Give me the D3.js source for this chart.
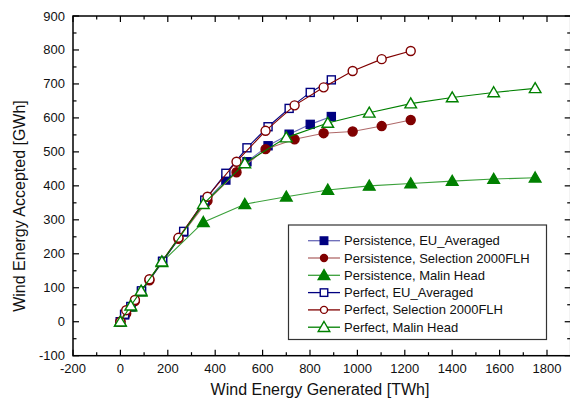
<!DOCTYPE html>
<html><head><meta charset="utf-8">
<script src="https://cdn.jsdelivr.net/npm/d3@7"></script>
<style>html,body{margin:0;padding:0;background:#fff;overflow:hidden}svg{display:block;font-family:"Liberation Sans",Arial,sans-serif}</style>
</head><body><svg id="c" width="570" height="399"></svg>
<script>
// Data
const xEU   = [0, 17.8, 44.5, 89, 178, 267, 356, 445, 534, 623, 712, 801, 890];
const persEU = [0, 20, 44, 89, 177, 264, 352, 417, 471, 518, 552, 581, 604];
const perfEU = [0, 22, 45, 91, 178, 266, 358, 437, 512, 574, 628, 675, 712];
const xSel  = [0, 24.5, 61.25, 122.5, 245, 367.5, 490, 612.5, 735, 857.5, 980, 1102.5, 1225];
const persSel = [0, 24, 61, 122, 244, 356, 440, 508, 537, 555, 560, 576, 594];
const perfSel = [0, 34, 64, 125, 247, 368, 471, 562, 637, 690, 738, 773, 797];
const xMal  = [0, 43.75, 87.5, 175, 350, 525, 700, 875, 1050, 1225, 1400, 1575, 1750];
const persMal = [0, 44, 88, 175, 293, 346, 368, 388, 400, 407, 414, 420, 424];
const perfMal = [0, 47, 91, 177, 346, 466, 542, 585, 615, 642, 660, 675, 687];
const seriesNames = ["Persistence, EU_Averaged","Persistence, Selection 2000FLH","Persistence, Malin Head","Perfect, EU_Averaged","Perfect, Selection 2000FLH","Perfect, Malin Head"];
const xTicks = [-200,0,200,400,600,800,1000,1200,1400,1600,1800];
const yTicks = [-100,0,100,200,300,400,500,600,700,800,900];

const series = [
  {name:seriesNames[0], xs:xEU, ys:persEU, color:"#000080", line:"#6a6ab8", shape:"square", fill:true},
  {name:seriesNames[1], xs:xSel, ys:persSel, color:"#800000", line:"#b06a6a", shape:"circle", fill:true},
  {name:seriesNames[2], xs:xMal, ys:persMal, color:"#008000", line:"#3aa03a", shape:"triangle", fill:true},
  {name:seriesNames[3], xs:xEU, ys:perfEU, color:"#000080", line:"#000080", shape:"square", fill:false},
  {name:seriesNames[4], xs:xSel, ys:perfSel, color:"#800000", line:"#800000", shape:"circle", fill:false},
  {name:seriesNames[5], xs:xMal, ys:perfMal, color:"#008000", line:"#008000", shape:"triangle", fill:false},
];

const svg = d3.select("#c");
const L=73, R=570.7, T=16, B=355.7;
const x = d3.scaleLinear().domain([-200,1900]).range([L,R]);
const y = d3.scaleLinear().domain([-100,900]).range([B,T]);

// Series
const lineGen = d3.line().x(d=>x(d[0])).y(d=>y(d[1]));
function marker(g, shape, fill, color, cx, cy, s){
  const sw = 1.4;
  if(shape==="square"){
    g.append("rect").attr("x",cx-s/2).attr("y",cy-s/2).attr("width",s).attr("height",s)
     .attr("fill",fill?color:"#fff").attr("stroke",color).attr("stroke-width",sw);
  } else if(shape==="circle"){
    g.append("circle").attr("cx",cx).attr("cy",cy).attr("r",s/2)
     .attr("fill",fill?color:"#fff").attr("stroke",color).attr("stroke-width",sw);
  } else {
    const h = s*0.95;
    g.append("path").attr("d",`M${cx},${cy-h*0.6}L${cx+s*0.58},${cy+h*0.45}L${cx-s*0.58},${cy+h*0.45}Z`)
     .attr("fill",fill?color:"#fff").attr("stroke",color).attr("stroke-width",sw);
  }
}
const sizes = {square:8, circle:9, triangle:10};
series.forEach(s=>{
  const pts = s.xs.map((v,i)=>[v,s.ys[i]]);
  const g = svg.append("g");
  g.append("path").datum(pts).attr("d",lineGen).attr("fill","none").attr("stroke",s.line).attr("stroke-width",1.1);
  pts.forEach(p=>marker(g,s.shape,s.fill,s.color,x(p[0]),y(p[1]),sizes[s.shape]));
});

// Axes frame
const ax = svg.append("g");
const axisColor="#000";
ax.append("rect").attr("x",L).attr("y",T).attr("width",R-L).attr("height",B-T).attr("fill","none").attr("stroke",axisColor).attr("stroke-width",1.5);
const xMinor = d3.range(-200,1901,100);
const yMinor = d3.range(-100,901,50);
xMinor.forEach(v=>{
  const major = v%200===0;
  const len = major?6:3.5;
  const px = x(v);
  ax.append("line").attr("x1",px).attr("x2",px).attr("y1",B).attr("y2",B-len).attr("stroke",axisColor).attr("stroke-width",1.2);
  ax.append("line").attr("x1",px).attr("x2",px).attr("y1",T).attr("y2",T+len).attr("stroke",axisColor).attr("stroke-width",1.2);
});
yMinor.forEach(v=>{
  const major = v%100===0;
  const len = major?6:3.5;
  const py = y(v);
  ax.append("line").attr("x1",L).attr("x2",L+len).attr("y1",py).attr("y2",py).attr("stroke",axisColor).attr("stroke-width",1.2);
  ax.append("line").attr("x1",R).attr("x2",R-len).attr("y1",py).attr("y2",py).attr("stroke",axisColor).attr("stroke-width",1.2);
});
xTicks.forEach(v=>{
  ax.append("text").attr("x",x(v)).attr("y",373).attr("text-anchor","middle").attr("font-size",13).attr("fill","#111").text(v);
});
yTicks.forEach(v=>{
  ax.append("text").attr("x",65).attr("y",y(v)+4.5).attr("text-anchor","end").attr("font-size",13).attr("fill","#111").text(v);
});
svg.append("text").attr("x",320).attr("y",395).attr("text-anchor","middle").attr("font-size",16).attr("fill","#111").text("Wind Energy Generated [TWh]");
svg.append("text").attr("transform","translate(25,206) rotate(-90)").attr("text-anchor","middle").attr("font-size",16).attr("fill","#111").text("Wind Energy Accepted [GWh]");

// Legend
const lg = svg.append("g");
lg.append("rect").attr("x",288.5).attr("y",225).attr("width",258).attr("height",114.5).attr("fill","#fff").attr("stroke","#333").attr("stroke-width",1.2);
series.forEach((s,i)=>{
  const ly = 240.7 + i*17.3;
  lg.append("line").attr("x1",308).attr("x2",340).attr("y1",ly).attr("y2",ly).attr("stroke",s.line).attr("stroke-width",1.3);
  marker(lg,s.shape,s.fill,s.color,324,ly,s.shape==="circle"?7:(s.shape==="triangle"?10:7.5));
  lg.append("text").attr("x",344).attr("y",ly+4.5).attr("font-size",13).attr("fill","#111").text(s.name);
});
</script></body></html>
